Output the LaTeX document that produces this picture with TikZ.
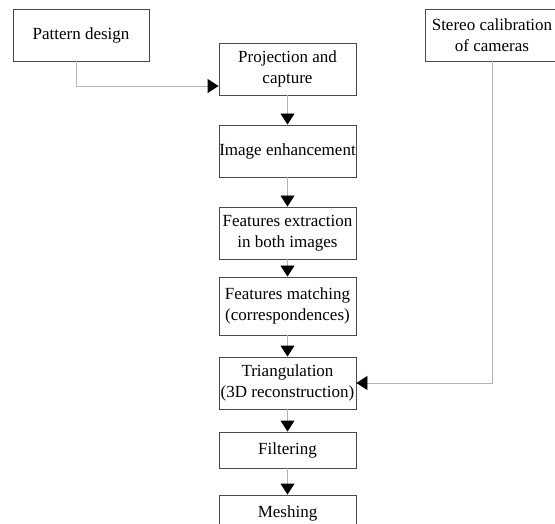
\documentclass[tikz,border=0pt]{standalone}
\usepackage{fontspec}
\setmainfont{Liberation Serif}
\usetikzlibrary{arrows.meta}
\definecolor{boxgray}{HTML}{4A4A4A}
\definecolor{linegray}{HTML}{B4B4B4}

\begin{document}
\begin{tikzpicture}[x=1pt,y=-1pt,
        stage/.style={draw=boxgray,line width=0.9pt,rectangle,minimum width=137pt,minimum height=52pt,inner xsep=0pt,align=center,font=\fontsize{17}{21.5}\selectfont},
        link/.style={draw=linegray,line width=0.9pt,-{Triangle[length=11pt,width=14pt,color=black]}}]
        %% Frame
        \useasboundingbox (0,0) rectangle (555,524);
        %% Main column
        \node[stage] (proj) at (287.5,69) {Projection and\\capture};
        \node[stage] (enh) at (287.5,151) {Image enhancement};
        \node[stage] (ext) at (287.5,233) {Features extraction\\in both images};
        \node[stage,minimum height=58pt] (match) at (287.5,306) {Features matching\\(correspondences)};
        \node[stage] (tri) at (287.5,383) {Triangulation\\(3D reconstruction)};
        \node[stage,minimum height=36pt] (filt) at (287.5,450) {Filtering};
        \node[stage,minimum height=36pt] (mesh) at (287.5,513) {Meshing};
        %% Side inputs
        \node[stage,minimum width=136pt] (pat) at (81,35) {Pattern design};
        \node[stage,minimum width=134pt] (cal) at (492,35) {Stereo calibration\\of cameras};
        %% Links
        \foreach \a/\b in {proj/enh,enh/ext,ext/match,match/tri,tri/filt,filt/mesh}
            \draw[link] (\a) -- (\b);
        \draw[link] ([xshift=-5pt]pat.south) |- ([yshift=-17pt]proj.west);
        \draw[link] (cal.south) |- (tri.east);
    \end{tikzpicture}
\end{document}
